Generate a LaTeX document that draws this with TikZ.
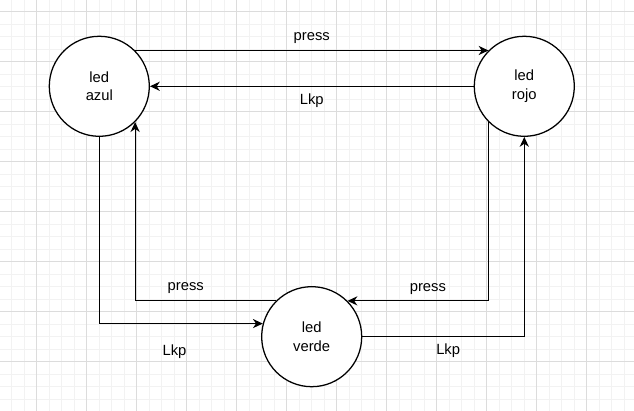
\documentclass[tikz,border=0pt]{standalone}
\usepackage{fontspec}
\setmainfont{Liberation Sans}
\usepackage{xcolor}
\usepackage{tikz}
\usetikzlibrary{arrows.meta, positioning, calc}

\definecolor{gridminor}{HTML}{F2F2F2}
\definecolor{gridmajor}{HTML}{DCDCDC}

\tikzset{
  ledstate/.style={circle, draw, line width=0.9pt, fill=white, minimum size=2.5cm, inner sep=0pt, align=center, font=\fontsize{10.5}{13.2}\selectfont},
  trans/.style={draw, line width=0.85pt, -{Stealth[length=7pt, width=6.5pt, inset=2.2pt]}},
  translbl/.style={font=\fontsize{10.5}{13}\selectfont, inner sep=0pt}
}

\begin{document}
\begin{tikzpicture}[x=0.025cm, y=-0.025cm]
				\useasboundingbox (0,0) rectangle (634,411);
				\fill[white] (0,0) rectangle (634,411);
				\foreach \gx in {11.7,24.2,...,634} \draw[gridminor, line width=0.6pt] (\gx,0) -- (\gx,411);
				\foreach \gy in {11.7,24.2,...,411} \draw[gridminor, line width=0.6pt] (0,\gy) -- (634,\gy);
				\foreach \gx in {36.7,86.7,...,634} \draw[gridmajor, line width=0.6pt] (\gx,0) -- (\gx,411);
				\foreach \gy in {11.7,61.7,...,411} \draw[gridmajor, line width=0.6pt] (0,\gy) -- (634,\gy);
				\node[ledstate] (azul) at (99.3,86.3) {led\\azul};
				\node[ledstate] (rojo) at (524.3,86.3) {led\\rojo};
				\node[ledstate] (verde) at (311.7,336.7) {led\\verde};
				\draw[trans] (azul.45) -- (rojo.135) node[translbl, pos=0.5, yshift=0.3cm] (lblpressA) {press};
				\draw[trans] (rojo.west) -- (azul.east) node[translbl, pos=0.5, yshift=-0.35cm] (lbllkpA) {Lkp};
				\draw[trans] (azul.south) |- (verde.165) node[translbl, pos=0.73, yshift=-0.7cm] (lbllkpB) {Lkp};
				\draw[trans] (verde.135) -| (azul.-45) node[translbl, pos=0.32, yshift=0.31cm] (lblpressB) {press};
				\draw[trans] (rojo.-135) |- (verde.45) node[translbl, pos=0.715, yshift=0.3cm] (lblpressC) {press};
				\draw[trans] (verde.east) -| (rojo.south) node[translbl, pos=0.265, yshift=-0.35cm] (lbllkpC) {Lkp};
			\end{tikzpicture}
\end{document}
